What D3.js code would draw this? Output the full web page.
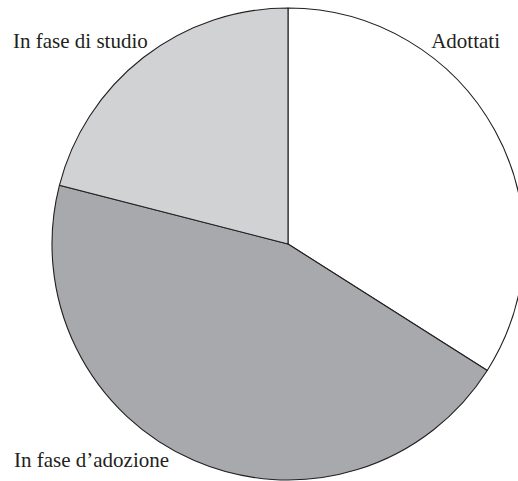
<!DOCTYPE html>
<html><head><meta charset="utf-8">
<script src="https://cdn.jsdelivr.net/npm/d3@7"></script>
<style>body{margin:0;background:#fff;overflow:hidden}svg{display:block}</style>
</head><body>
<script>
const categories = ["Adottati", "In fase d’adozione", "In fase di studio"];
const values = [34, 45, 21];
const colors = ["#ffffff", "#a7a9ac", "#d1d2d4"];

const W = 518, H = 481, cx = 288, cy = 244, R = 236;
const svg = d3.select("body").append("svg").attr("width", W).attr("height", H);
const pie = d3.pie().sort(null).value(d => d)(values);
const arc = d3.arc().innerRadius(0).outerRadius(R);
const g = svg.append("g").attr("transform", `translate(${cx},${cy})`);
g.selectAll("path").data(pie).join("path")
  .attr("d", arc)
  .attr("fill", (d, i) => colors[i])
  .attr("stroke", "#231f20")
  .attr("stroke-width", 1.1)
  .attr("stroke-linejoin", "round");

const labels = [
  {t: categories[0], x: 500, y: 48, a: "end"},
  {t: categories[1], x: 14, y: 467, a: "start"},
  {t: categories[2], x: 13, y: 48, a: "start"}
];
svg.selectAll("text.lbl").data(labels).join("text")
  .attr("class", "lbl")
  .attr("x", d => d.x).attr("y", d => d.y)
  .attr("text-anchor", d => d.a)
  .style("font-family", '"Liberation Serif"')
  .style("font-size", "21px")
  .style("fill", "#231f20")
  .text(d => d.t);
</script>
</body></html>
